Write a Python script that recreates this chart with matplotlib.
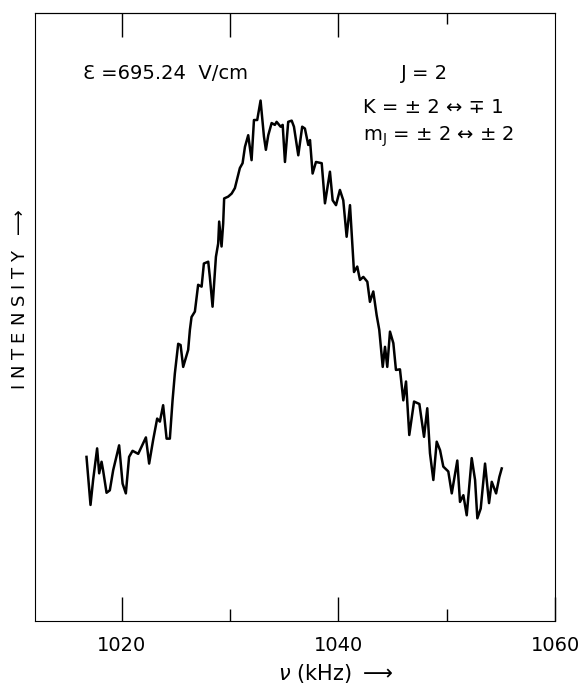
import matplotlib
matplotlib.use('Agg')
import matplotlib.pyplot as plt
from matplotlib.ticker import FixedLocator, NullFormatter

# frequency (kHz) and intensity (arb. units)
freq = [1016.77, 1017.14, 1017.38, 1017.75, 1017.94, 1018.16, 1018.30, 1018.62, 1018.92, 1019.23,
        1019.78, 1020.10, 1020.40, 1020.70, 1021.02, 1021.54, 1022.25, 1022.55, 1022.92, 1023.29,
        1023.54, 1023.84, 1024.16, 1024.46, 1024.71, 1024.92, 1025.23, 1025.45, 1025.69, 1026.15,
        1026.31, 1026.46, 1026.77, 1027.07, 1027.39, 1027.60, 1028.00, 1028.15, 1028.40, 1028.71,
        1028.92, 1029.01, 1029.23, 1029.38, 1029.47, 1029.84, 1030.16, 1030.46, 1030.92, 1031.17,
        1031.39, 1031.69, 1032.00, 1032.22, 1032.52, 1032.83, 1033.14, 1033.32, 1033.54, 1033.85,
        1034.15, 1034.31, 1034.68, 1034.87, 1035.08, 1035.38, 1035.70, 1035.91, 1036.31, 1036.67,
        1036.92, 1037.23, 1037.39, 1037.63, 1037.94, 1038.47, 1038.77, 1039.23, 1039.48, 1039.79,
        1040.15, 1040.46, 1040.77, 1041.08, 1041.45, 1041.75, 1042.00, 1042.31, 1042.68, 1042.92,
        1043.23, 1043.54, 1043.78, 1044.10, 1044.31, 1044.52, 1044.77, 1045.08, 1045.32, 1045.69,
        1046.00, 1046.25, 1046.55, 1046.99, 1047.48, 1047.91, 1048.21, 1048.46, 1048.77, 1049.08,
        1049.39, 1049.69, 1050.15, 1050.47, 1050.68, 1050.98, 1051.23, 1051.54, 1051.85, 1052.31,
        1052.62, 1052.83, 1053.14, 1053.54, 1053.91, 1054.16, 1054.56, 1054.86, 1055.08]
intensity = [27.0, 19.1, 23.2, 28.4, 24.3, 26.2, 24.8, 21.1, 21.5, 24.8,
             28.9, 22.6, 21.0, 27.0, 28.0, 27.5, 30.2, 25.9, 29.8, 33.3,
             32.8, 35.5, 30.0, 30.0, 36.3, 40.7, 45.6, 45.4, 41.8, 44.6,
             47.9, 50.0, 50.9, 55.3, 55.0, 58.8, 59.1, 56.6, 51.7, 59.9,
             62.1, 65.7, 61.6, 65.4, 69.5, 69.8, 70.3, 71.2, 74.5, 75.3,
             78.0, 79.9, 75.8, 82.4, 82.4, 85.6, 79.7, 77.5, 79.9, 81.9,
             81.6, 82.1, 81.3, 81.6, 75.5, 82.1, 82.3, 81.3, 76.6, 81.3,
             81.0, 78.3, 79.1, 73.6, 75.5, 75.3, 68.7, 73.9, 69.2, 68.4,
             70.9, 69.2, 63.2, 68.4, 57.4, 58.3, 56.1, 56.6, 55.8, 52.5,
             54.2, 50.3, 47.9, 41.8, 45.1, 41.8, 47.6, 45.7, 41.3, 41.4,
             36.3, 39.4, 30.6, 36.1, 35.7, 30.3, 35.0, 27.6, 23.2, 29.5,
             28.1, 25.4, 24.6, 21.0, 23.2, 26.4, 19.6, 20.7, 17.4, 26.8,
             23.2, 16.9, 18.5, 25.9, 19.4, 22.9, 21.0, 23.7, 25.1]

major = [1020, 1040, 1060]
minor = [1030, 1050]

fig = plt.figure(figsize=(5.8, 6.84), dpi=100)
ax = fig.add_axes([0.060, 0.092, 0.897, 0.889])
ax.plot(freq, intensity, color='black', linewidth=1.8, solid_joinstyle='round')
ax.set_xlim(1012, 1060)
ax.set_ylim(0, 100)
ax.set_yticks([])
ax.set_xticks(major)
ax.set_xticks(minor, minor=True)
ax.tick_params(axis='x', which='major', direction='in', length=17, width=1, labelsize=14, pad=11)
ax.tick_params(axis='x', which='minor', direction='in', length=9, width=1)

# top edge carries its own (irregular) tick marks
top = ax.secondary_xaxis('top')
top.xaxis.set_major_locator(FixedLocator([1020, 1030, 1040]))
top.xaxis.set_minor_locator(FixedLocator([1050]))
top.xaxis.set_major_formatter(NullFormatter())
top.tick_params(which='major', direction='in', length=17, width=1)
top.tick_params(which='minor', direction='in', length=8, width=1)

ax.text(0.092, 0.90, 'Ɛ =695.24  V/cm', transform=ax.transAxes, fontsize=14, va='center')
ax.text(0.75, 0.90, 'J = 2', transform=ax.transAxes, fontsize=14, va='center', ha='center')
ax.text(0.631, 0.845, 'K = ± 2 ↔ ∓ 1', transform=ax.transAxes, fontsize=14, va='center')
ax.text(0.631, 0.796, r'm$_\mathregular{J}$ = ± 2 ↔ ± 2', transform=ax.transAxes, fontsize=14, va='center')

fig.text(0.578, 0.016, r'$\nu$ (kHz) $\longrightarrow$', fontsize=15, ha='center', va='center')
fig.text(0.034, 0.562, r'I N T E N S I T Y  $\longrightarrow$', fontsize=13, rotation=90, ha='center', va='center')

fig.savefig('out.png', dpi=100)
